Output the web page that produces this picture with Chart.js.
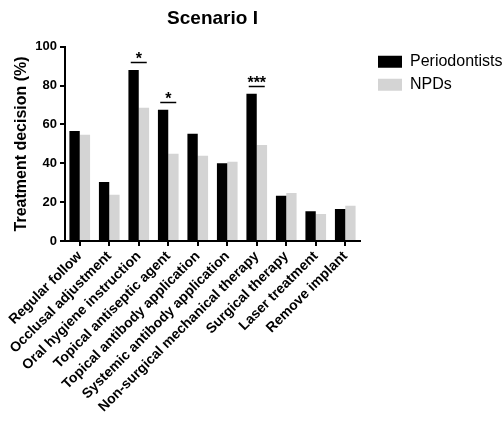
<!DOCTYPE html>
<html>
<head>
<meta charset="utf-8">
<script src="https://cdn.jsdelivr.net/npm/chart.js@4/dist/chart.umd.min.js"></script>
<style>
  html, body { margin: 0; padding: 0; background: #fff; }
  canvas { display: block; }
</style>
</head>
<body>
<canvas id="chart" width="502" height="421"></canvas>
<script>
// Treatment options considered in Scenario I
const categories = [
  'Regular follow',
  'Occlusal adjustment',
  'Oral hygiene instruction',
  'Topical antiseptic agent',
  'Topical antibody application',
  'Systemic antibody application',
  'Non-surgical mechanical therapy',
  'Surgical therapy',
  'Laser treatment',
  'Remove implant'
];

// Share of respondents choosing each option (%)
const periodontists = [56.6, 30.4, 88.0, 67.6, 55.2, 40.1, 75.8, 23.3, 15.3, 16.5];
const npds = [54.7, 23.8, 68.6, 44.9, 43.9, 40.8, 49.4, 24.7, 13.9, 18.2];

// Y axis tick values
const yTicks = [0, 20, 40, 60, 80, 100];

// Group differences marked as significant
const sigCategories = ['Oral hygiene instruction', 'Topical antiseptic agent', 'Non-surgical mechanical therapy'];
const sigLabels = ['*', '*', '***'];

const FONT = "'Liberation Sans', Arial, Helvetica, sans-serif";
Chart.defaults.font.family = FONT;
Chart.defaults.color = '#000';

// Draws the significance bracket and stars above each marked pair
const significancePlugin = {
  id: 'significance',
  afterDatasetsDraw(chart) {
    const ctx = chart.ctx;
    const xScale = chart.scales.x;
    const metaA = chart.getDatasetMeta(0);
    const metaB = chart.getDatasetMeta(1);
    ctx.save();
    sigCategories.forEach((cat, k) => {
      const i = categories.indexOf(cat);
      if (i < 0) return;
      const cx = xScale.getPixelForValue(i);
      const top = Math.min(metaA.data[i].y, metaB.data[i].y);
      const lineY = Math.round(top - 8) + 0.5;
      ctx.strokeStyle = '#000';
      ctx.lineWidth = 1.5;
      ctx.beginPath();
      ctx.moveTo(cx - 8, lineY);
      ctx.lineTo(cx + 8, lineY);
      ctx.stroke();
      ctx.fillStyle = '#000';
      ctx.font = 'bold 16px ' + FONT;
      ctx.textAlign = 'center';
      ctx.textBaseline = 'alphabetic';
      ctx.fillText(sigLabels[k], cx, lineY + 1.5);
    });
    ctx.restore();
  }
};

// Moves the legend a little further from the plot area and lets it use the free space on the right
const legendOffsetPlugin = {
  id: 'legendOffset',
  afterLayout(chart) {
    if (chart.legend) {
      chart.legend.left += 11;
      chart.legend.right = chart.width;
    }
  }
};

new Chart(document.getElementById('chart'), {
  type: 'bar',
  data: {
    labels: categories,
    datasets: [
      {
        label: 'Periodontists',
        data: periodontists,
        backgroundColor: '#000000',
        borderWidth: 0
      },
      {
        label: 'NPDs',
        data: npds,
        backgroundColor: '#d4d4d4',
        borderWidth: 0
      }
    ]
  },
  options: {
    responsive: false,
    animation: false,
    devicePixelRatio: 1,
    layout: { padding: { left: 0, right: 22, top: 0, bottom: 0 } },
    datasets: {
      bar: { categoryPercentage: 0.7, barPercentage: 1.0 }
    },
    plugins: {
      title: {
        display: true,
        text: 'Scenario I',
        color: '#000',
        fullSize: false,
        font: { size: 19, weight: 'bold' },
        padding: { top: 7, bottom: 17 }
      },
      legend: {
        position: 'right',
        align: 'start',
        fullSize: false,
        labels: {
          boxWidth: 24,
          boxHeight: 12,
          padding: 7,
          color: '#000',
          font: { size: 16 }
        }
      },
      tooltip: { enabled: false }
    },
    scales: {
      x: {
        offset: true,
        afterFit(s) {
          s.height = 180;
          s.paddingLeft = 0;
          s.paddingRight = 0;
        },
        ticks: {
          color: '#000',
          font: { size: 14, weight: 'bold' },
          maxRotation: 45,
          minRotation: 45,
          autoSkip: false,
          padding: 2
        },
        grid: {
          display: true,
          offset: false,
          drawOnChartArea: false,
          drawTicks: true,
          tickLength: 5,
          color: '#000',
          lineWidth: 2
        },
        border: { display: true, color: '#000', width: 2 }
      },
      y: {
        min: 0,
        max: 100,
        afterBuildTicks(s) {
          s.ticks = yTicks.map(v => ({ value: v }));
        },
        afterFit(s) {
          s.width = 65;
          s.paddingTop = 0;
          s.paddingBottom = 0;
        },
        ticks: {
          color: '#000',
          font: { size: 13, weight: 'bold' },
          padding: 3
        },
        grid: {
          display: true,
          drawOnChartArea: false,
          drawTicks: true,
          tickLength: 5,
          color: '#000',
          lineWidth: 2
        },
        border: { display: true, color: '#000', width: 2 },
        title: {
          display: true,
          text: 'Treatment decision (%)',
          color: '#000',
          font: { size: 16, weight: 'bold' },
          padding: { top: 12, bottom: 0 }
        }
      }
    }
  },
  plugins: [significancePlugin, legendOffsetPlugin]
});
</script>
</body>
</html>
